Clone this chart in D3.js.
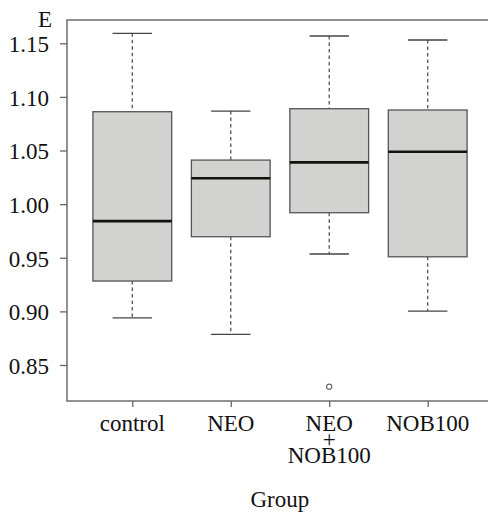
<!DOCTYPE html>
<html>
<head>
<meta charset="utf-8">
<script src="https://cdn.jsdelivr.net/npm/d3@7"></script>
<style>
  body { margin: 0; background: #fff; }
  svg text { font-family: "Liberation Serif", "Times New Roman", "DejaVu Serif", serif !important; fill: #111; }
</style>
</head>
<body>
<div id="chart"></div>
<script>
// group labels (multi-line labels split on \n)
const groups = ["control", "NEO", "NEO\n+\nNOB100", "NOB100"];
// five-number summaries
const whiskerLow = [0.894, 0.8785, 0.9535, 0.9003];
const q1 = [0.9283, 0.9696, 0.9920, 0.9509];
const median = [0.9842, 1.0241, 1.0390, 1.0489];
const q3 = [1.0862, 1.0411, 1.0890, 1.0878];
const whiskerHigh = [1.1593, 1.0868, 1.1568, 1.1531];
// outliers: [group index, value]
const outliers = [[2, 0.8297]];
const yTicks = [0.85, 0.90, 0.95, 1.00, 1.05, 1.10, 1.15];

const width = 488, height = 519;
const plotLeft = 67, plotTop = 20, plotBottom = 401;
const serif = '"Liberation Serif", "Times New Roman", "DejaVu Serif", serif';

const svg = d3.select("#chart").append("svg")
  .attr("width", width)
  .attr("height", height);

const y = d3.scaleLinear().domain([0.85, 1.15]).range([365, 43.3]);
const x = d3.scaleLinear().domain([1, 4]).range([132.3, 427.7]);
const step = x(2) - x(1);
const plotRight = x(4) + 0.66 * step;
const boxW = 0.8 * step;
const capW = boxW / 2;

const data = groups.map((g, i) => ({
  name: g, i: i + 1,
  lo: whiskerLow[i], q1: q1[i], med: median[i], q3: q3[i], hi: whiskerHigh[i]
}));

const boxes = svg.append("g").selectAll("g").data(data).join("g");

// whiskers
boxes.append("line")
  .attr("x1", d => x(d.i)).attr("x2", d => x(d.i))
  .attr("y1", d => y(d.hi)).attr("y2", d => y(d.q3))
  .attr("stroke", "#555").attr("stroke-width", 1.3).attr("stroke-dasharray", "3.5,3");
boxes.append("line")
  .attr("x1", d => x(d.i)).attr("x2", d => x(d.i))
  .attr("y1", d => y(d.q1)).attr("y2", d => y(d.lo))
  .attr("stroke", "#555").attr("stroke-width", 1.3).attr("stroke-dasharray", "3.5,3");
// caps
["hi", "lo"].forEach(k => {
  boxes.append("line")
    .attr("x1", d => x(d.i) - capW / 2).attr("x2", d => x(d.i) + capW / 2)
    .attr("y1", d => y(d[k])).attr("y2", d => y(d[k]))
    .attr("stroke", "#444").attr("stroke-width", 1.3);
});
// box
boxes.append("rect")
  .attr("x", d => x(d.i) - boxW / 2)
  .attr("y", d => y(d.q3))
  .attr("width", boxW)
  .attr("height", d => y(d.q1) - y(d.q3))
  .attr("fill", "#d2d2d0")
  .attr("stroke", "#555").attr("stroke-width", 1.3);
// median
boxes.append("line")
  .attr("x1", d => x(d.i) - boxW / 2).attr("x2", d => x(d.i) + boxW / 2)
  .attr("y1", d => y(d.med)).attr("y2", d => y(d.med))
  .attr("stroke", "#111").attr("stroke-width", 2.6);

// outliers
svg.append("g").selectAll("circle").data(outliers).join("circle")
  .attr("cx", d => x(d[0] + 1)).attr("cy", d => y(d[1]))
  .attr("r", 2.6).attr("fill", "none").attr("stroke", "#666").attr("stroke-width", 1.1);

// frame
svg.append("rect")
  .attr("x", plotLeft).attr("y", plotTop)
  .attr("width", plotRight - plotLeft).attr("height", plotBottom - plotTop)
  .attr("fill", "none").attr("stroke", "#777").attr("stroke-width", 1.6);

// y axis
const yAxis = d3.axisLeft(y).tickValues(yTicks).tickFormat(d3.format(".2f")).tickSize(7).tickPadding(11);
const gy = svg.append("g").attr("transform", `translate(${plotLeft},0)`).call(yAxis)
  .attr("font-family", serif).attr("font-size", 23);
gy.select(".domain").remove();
gy.selectAll("line").attr("stroke", "#666").attr("stroke-width", 1.3);
gy.selectAll("text").style("font-family", serif).style("font-size", "23px").attr("fill", "#111").attr("dy", "0.36em");

// x axis
const xAxis = d3.axisBottom(x).tickValues([1, 2, 3, 4]).tickFormat("").tickSize(6);
const gx = svg.append("g").attr("transform", `translate(0,${plotBottom})`).call(xAxis);
gx.select(".domain").remove();
gx.selectAll("line").attr("stroke", "#666").attr("stroke-width", 1.3);

const xl = svg.append("g").selectAll("text").data(data).join("text")
  .attr("x", d => x(d.i)).attr("y", 430.7)
  .attr("text-anchor", "middle")
  .style("font-family", serif).style("font-size", "23px");
xl.each(function (d) {
  const lines = d.name.split("\n");
  const t = d3.select(this);
  lines.forEach((ln, j) => {
    t.append("tspan").attr("x", x(d.i)).attr("dy", j === 0 ? 0 : 16.3).text(ln);
  });
});

// axis titles
svg.append("text").attr("x", 45).attr("y", 26.7).attr("text-anchor", "middle")
  .style("font-family", serif).style("font-size", "23px").text("E");
svg.append("text").attr("x", (plotLeft + plotRight) / 2).attr("y", 507)
  .attr("text-anchor", "middle")
  .style("font-family", serif).style("font-size", "23px").text("Group");
</script>
</body>
</html>
